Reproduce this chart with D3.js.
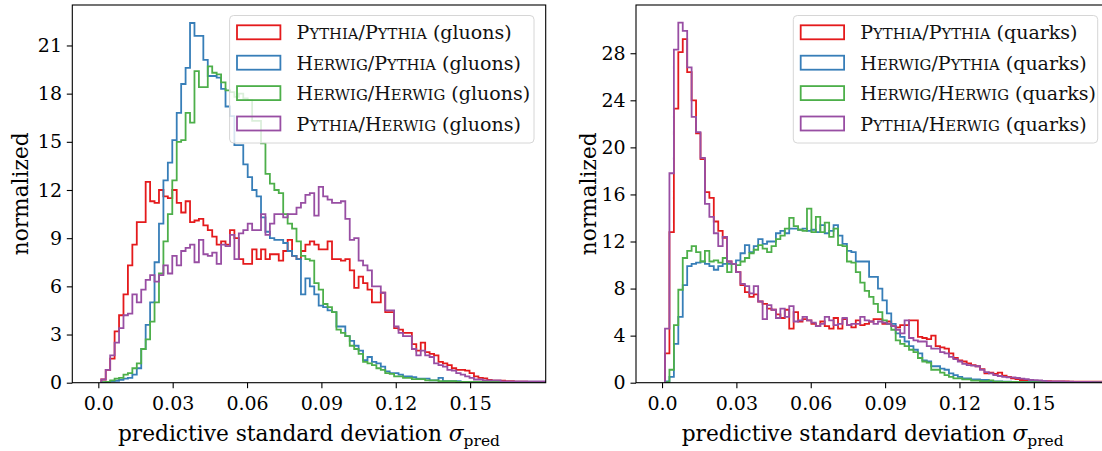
<!DOCTYPE html>
<html>
<head>
<meta charset="utf-8">
<script src="https://cdn.jsdelivr.net/npm/d3@7"></script>
<style>
  html, body { margin: 0; padding: 0; background: #fff; }
  svg { display: block; }
</style>
</head>
<body>
<div id="chart"></div>
<script>
// histogram bins: 100 bins of equal width starting at binStart
const binStart = 0.0012;
const binWidth = 0.00179;

const generators = ["Pythia/Pythia", "Herwig/Pythia", "Herwig/Herwig", "Pythia/Herwig"];
const colors = ["#e41a1c", "#377eb8", "#4daf4a", "#984ea3"];

const xTicks = [0, 0.03, 0.06, 0.09, 0.12, 0.15];
const xTickLabels = ["0.0", "0.03", "0.06", "0.09", "0.12", "0.15"];
const gluonTicks = [0, 3, 6, 9, 12, 15, 18, 21];
const quarkTicks = [0, 4, 8, 12, 16, 20, 24, 28];

// gluons
const gluonPP = [0.2, 0.8, 1.5, 3.2, 4.2, 5.5, 7.3, 8.6, 10.0, 10.0,
  12.5, 11.3, 11.2, 12.0, 11.6, 11.5, 12.0, 11.2, 10.6, 11.3,
  10.0, 10.1, 10.2, 9.8, 9.5, 9.1, 8.6, 8.8, 8.6, 9.5,
  9.0, 7.7, 7.4, 7.4, 8.3, 7.7, 8.3, 7.7, 8.0, 8.0,
  7.6, 8.2, 8.9, 7.9, 7.7, 8.2, 8.6, 8.8, 8.6, 8.3,
  8.3, 8.8, 7.7, 7.7, 7.6, 7.7, 7.0, 5.9, 6.6, 6.2,
  5.8, 5.0, 5.0, 5.6, 4.4, 4.4, 3.4, 3.3, 3.1, 3.1,
  2.4, 2.0, 2.5, 1.9, 1.8, 1.7, 1.3, 1.2, 1.1, 0.9,
  0.8, 0.8, 0.75, 0.6, 0.4, 0.3, 0.27, 0.17, 0.12, 0.12,
  0.12, 0.1, 0.1, 0.06, 0.06, 0.06, 0.05, 0.05, 0.04, 0.03];
const gluonHP = [0.02, 0.05, 0.1, 0.12, 0.18, 0.25, 0.3, 0.5, 0.9, 2.1,
  3.6, 5.0, 7.5, 9.9, 12.6, 13.7, 15.1, 16.8, 18.6, 19.6,
  22.4, 21.6, 21.6, 20.1, 19.1, 19.1, 19.0, 18.3, 17.2, 16.6,
  14.8, 14.8, 13.6, 12.8, 12.0, 11.6, 10.3, 9.4, 9.0, 8.9,
  8.9, 8.7, 8.2, 7.9, 7.7, 5.5, 6.5, 6.0, 5.5, 4.8,
  4.7, 4.5, 4.4, 3.5, 3.5, 2.9, 2.6, 2.3, 2.0, 1.4,
  1.6, 1.3, 1.2, 1.0, 0.7, 0.6, 0.6, 0.5, 0.4, 0.4,
  0.35, 0.25, 0.25, 0.25, 0.15, 0.15, 0.3, 0.1, 0.1, 0.1,
  0.1, 0.05, 0.05, 0.05, 0.05, 0.05, 0.05, 0.05, 0.05, 0.05,
  0.03, 0.03, 0.03, 0.03, 0.03, 0.03, 0.03, 0.03, 0.03, 0.03];
const gluonHH = [0.03, 0.05, 0.15, 0.25, 0.3, 0.5, 0.6, 0.9, 1.2, 2.1,
  2.7, 3.8, 5.0, 6.8, 8.8, 10.5, 12.6, 15.0, 15.1, 16.8,
  16.2, 19.4, 18.4, 18.4, 19.7, 19.3, 19.2, 18.7, 18.2, 18.1,
  17.8, 18.0, 17.7, 17.6, 16.3, 16.3, 14.9, 13.0, 12.4, 12.0,
  11.8, 10.5, 9.9, 9.6, 8.8, 7.9, 7.7, 7.6, 6.2, 5.8,
  4.9, 4.7, 4.4, 3.3, 3.1, 2.9, 2.3, 2.1, 1.8, 1.3,
  1.2, 1.1, 0.9, 0.8, 0.6, 0.55, 0.4, 0.4, 0.3, 0.3,
  0.22, 0.22, 0.22, 0.15, 0.15, 0.15, 0.1, 0.1, 0.1, 0.1,
  0.05, 0.05, 0.05, 0.05, 0.05, 0.05, 0.05, 0.05, 0.05, 0.05,
  0.03, 0.03, 0.03, 0.03, 0.03, 0.03, 0.03, 0.03, 0.03, 0.03];
const gluonPH = [0.2, 0.8, 1.7, 2.5, 3.4, 4.2, 4.3, 5.5, 5.0, 5.8,
  6.4, 6.7, 6.3, 6.7, 7.3, 6.8, 7.9, 7.3, 8.2, 8.4,
  8.6, 7.5, 8.9, 8.0, 7.9, 8.1, 7.4, 8.6, 8.5, 9.2,
  7.7, 9.3, 9.5, 9.9, 9.5, 9.5, 10.5, 9.2, 9.9, 10.5,
  10.5, 10.3, 10.5, 10.5, 10.9, 11.2, 11.7, 11.8, 10.4, 12.2,
  11.6, 11.4, 11.2, 11.2, 11.3, 10.2, 8.9, 9.0, 7.6, 7.3,
  7.0, 6.0, 6.0, 5.6, 4.5, 4.5, 3.5, 3.1, 2.9, 2.9,
  2.1, 1.7, 2.0, 1.7, 1.6, 1.2, 1.1, 1.0, 0.8, 0.75,
  0.6, 0.5, 0.4, 0.3, 0.2, 0.2, 0.15, 0.15, 0.15, 0.15,
  0.08, 0.08, 0.08, 0.08, 0.08, 0.08, 0.08, 0.08, 0.08, 0.08];

// quarks
const quarkPP = [2.5, 12.8, 23.3, 28.1, 29.2, 26.4, 24.0, 21.2, 19.0, 16.2,
  15.7, 13.7, 12.9, 12.3, 10.3, 10.1, 9.4, 8.3, 7.7, 7.3,
  7.5, 6.9, 6.7, 6.3, 6.2, 5.8, 5.5, 6.2, 4.6, 6.0,
  5.2, 5.4, 5.3, 5.0, 4.8, 5.2, 4.8, 4.6, 5.5, 4.6,
  5.4, 4.9, 4.7, 5.3, 4.9, 5.0, 5.2, 5.4, 5.4, 5.0,
  5.2, 4.8, 4.7, 4.9, 4.9, 5.3, 5.3, 3.9, 3.8, 3.7,
  4.0, 3.1, 3.0, 2.9, 2.5, 2.1, 1.9, 1.8, 1.65, 1.5,
  1.4, 1.15, 0.8, 0.85, 0.75, 0.85, 0.6, 0.5, 0.37, 0.3,
  0.23, 0.23, 0.14, 0.14, 0.14, 0.14, 0.14, 0.11, 0.11, 0.11,
  0.11, 0.08, 0.08, 0.08, 0.08, 0.08, 0.08, 0.08, 0.08, 0.08];
const quarkHP = [0.1, 0.5, 3.3, 5.6, 8.3, 9.9, 10.1, 10.2, 10.3, 10.1,
  9.9, 9.6, 9.9, 10.1, 10.1, 10.1, 10.4, 11.0, 11.7, 11.1,
  11.6, 12.2, 11.8, 12.0, 12.0, 12.7, 12.9, 12.7, 13.1, 13.1,
  13.0, 13.1, 12.9, 13.0, 12.8, 13.4, 12.7, 12.9, 13.4, 12.5,
  11.8, 11.2, 11.1, 10.3, 10.3, 10.3, 9.0, 9.0, 8.0, 7.0,
  5.9, 5.0, 4.2, 3.9, 3.5, 3.1, 2.8, 2.5, 1.9, 1.8,
  1.4, 1.4, 1.2, 1.1, 0.8, 0.65, 0.5, 0.37, 0.37, 0.28,
  0.28, 0.23, 0.23, 0.11, 0.11, 0.11, 0.08, 0.08, 0.07, 0.07,
  0.06, 0.06, 0.06, 0.05, 0.05, 0.05, 0.05, 0.05, 0.05, 0.05,
  0.04, 0.04, 0.04, 0.04, 0.03, 0.03, 0.03, 0.03, 0.03, 0.03];
const quarkHH = [0.05, 1.1, 4.9, 7.9, 10.6, 11.2, 11.6, 11.1, 10.3, 11.2,
  10.3, 10.4, 10.2, 10.6, 9.4, 10.1, 10.0, 10.3, 10.6, 11.0,
  11.3, 11.7, 11.4, 11.1, 11.6, 12.2, 12.5, 13.1, 14.0, 13.3,
  13.0, 12.9, 14.8, 12.8, 14.1, 12.8, 13.6, 12.4, 13.1, 11.7,
  11.6, 10.3, 10.2, 9.4, 8.5, 7.8, 7.3, 6.7, 6.0, 5.3,
  5.0, 4.5, 3.6, 3.3, 3.1, 2.8, 2.6, 2.1, 1.8, 1.7,
  1.1, 1.1, 0.85, 0.65, 0.5, 0.37, 0.37, 0.28, 0.28, 0.17,
  0.17, 0.14, 0.14, 0.2, 0.08, 0.08, 0.07, 0.07, 0.06, 0.06,
  0.05, 0.05, 0.05, 0.05, 0.05, 0.05, 0.05, 0.05, 0.05, 0.05,
  0.03, 0.03, 0.03, 0.03, 0.03, 0.03, 0.03, 0.03, 0.03, 0.03];
const quarkPH = [4.6, 17.8, 28.3, 30.6, 29.9, 26.8, 22.6, 21.3, 19.1, 15.2,
  14.1, 12.7, 11.6, 12.4, 10.3, 10.1, 9.4, 8.4, 8.2, 7.6,
  8.2, 6.9, 5.4, 6.6, 6.2, 5.5, 6.3, 5.6, 6.5, 5.2,
  5.3, 5.6, 5.3, 5.1, 4.8, 5.0, 5.6, 5.3, 4.9, 5.0,
  5.5, 4.9, 5.0, 5.0, 5.6, 5.3, 5.2, 5.0, 5.2, 5.1,
  5.0, 4.8, 4.5, 4.2, 5.3, 3.8, 3.6, 3.5, 3.5, 3.1,
  2.9, 2.9, 2.6, 2.5, 2.2, 2.0, 1.8, 1.6, 1.5, 1.45,
  1.4, 1.1, 0.9, 0.8, 0.65, 0.57, 0.5, 0.45, 0.45, 0.4,
  0.35, 0.3, 0.23, 0.22, 0.2, 0.15, 0.1, 0.1, 0.1, 0.1,
  0.08, 0.08, 0.07, 0.07, 0.06, 0.06, 0.05, 0.05, 0.05, 0.05];

const panels = [
  { left: 72.3, yMax: 23.52, yTicks: gluonTicks, series: [gluonPP, gluonHP, gluonHH, gluonPH], jet: "gluons", labelGap: 44 },
  { left: 636, yMax: 32.1, yTicks: quarkTicks, series: [quarkPP, quarkHP, quarkHH, quarkPH], jet: "quarks", labelGap: 40.5 }
];

const w = 1102;
const h = 451;
const plotTop = 5;
const plotBottom = 382.7;
const plotW = 473.4;
const font = "'DejaVu Serif', serif";
const fs = 19;

const svg = d3.select("#chart")
  .append("svg")
  .attr("width", w)
  .attr("height", h)
  .style("font-family", font);

// writes "Pythia/Herwig" as small caps: capitals full size, the rest smaller
function smallCaps(text, name, size) {
  name.match(/[A-Z]|[a-z]+|[^A-Za-z]+/g).forEach(part => {
    const lower = /^[a-z]+$/.test(part);
    text.append("tspan")
      .attr("font-size", lower ? size * 0.78 : size)
      .text(lower ? part.toUpperCase() : part);
  });
}

panels.forEach((p, pi) => {
  const xScale = d3.scaleLinear()
    .domain([-0.0105, 0.1805])
    .range([p.left, p.left + plotW]);

  const yScale = d3.scaleLinear()
    .domain([0, p.yMax])
    .range([plotBottom, plotTop]);

  svg.append("clipPath")
    .attr("id", "clip" + pi)
    .append("rect")
      .attr("x", p.left)
      .attr("y", plotTop)
      .attr("width", plotW)
      .attr("height", plotBottom - plotTop);

  const line = d3.line()
    .x(d => xScale(d[0]))
    .y(d => yScale(d[1]));

  const plot = svg.append("g").attr("clip-path", "url(#clip" + pi + ")");

  p.series.forEach((vals, si) => {
    const pts = [[binStart, 0]];
    vals.forEach((v, i) => {
      pts.push([binStart + i * binWidth, v]);
      pts.push([binStart + (i + 1) * binWidth, v]);
    });
    pts.push([binStart + vals.length * binWidth, 0]);

    plot.append("path")
      .attr("d", line(pts))
      .attr("fill", "none")
      .attr("stroke", colors[si])
      .attr("stroke-width", 1.8)
      .attr("stroke-linejoin", "miter");
  });

  // axes
  const xAxis = d3.axisBottom(xScale)
    .tickValues(xTicks)
    .tickFormat((d, i) => xTickLabels[i])
    .tickSize(5.5)
    .tickPadding(8)
    .tickSizeOuter(0);

  const yAxis = d3.axisLeft(yScale)
    .tickValues(p.yTicks)
    .tickSize(5.5)
    .tickPadding(4.8)
    .tickSizeOuter(0);

  svg.append("g")
    .attr("transform", "translate(0, " + plotBottom + ")")
    .call(xAxis)
    .call(g => g.select(".domain").remove())
    .call(g => g.selectAll(".tick line").attr("stroke", "#000").attr("stroke-width", 1.1))
    .call(g => g.selectAll(".tick text").attr("font-family", font).attr("font-size", fs).attr("fill", "#000"));

  svg.append("g")
    .attr("transform", "translate(" + p.left + ", 0)")
    .call(yAxis)
    .call(g => g.select(".domain").remove())
    .call(g => g.selectAll(".tick line").attr("stroke", "#000").attr("stroke-width", 1.1))
    .call(g => g.selectAll(".tick text").attr("font-family", font).attr("font-size", fs).attr("fill", "#000"));

  svg.append("rect")
    .attr("x", p.left)
    .attr("y", plotTop)
    .attr("width", plotW)
    .attr("height", plotBottom - plotTop)
    .attr("fill", "none")
    .attr("stroke", "#000")
    .attr("stroke-width", 1.1);

  // axis labels
  const xl = svg.append("text")
    .attr("x", p.left + plotW / 2)
    .attr("y", 441)
    .attr("text-anchor", "middle")
    .attr("font-size", 21.7)
    .attr("fill", "#000");
  xl.append("tspan").text("predictive standard deviation ");
  xl.append("tspan").attr("font-style", "italic").text("σ");
  xl.append("tspan").attr("font-size", 15.5).attr("dy", 5).text("pred");

  svg.append("text")
    .attr("transform", "translate(" + (p.left - p.labelGap) + "," + ((plotTop + plotBottom) / 2) + ") rotate(-90)")
    .attr("text-anchor", "middle")
    .attr("font-size", 21.7)
    .attr("fill", "#000")
    .text("normalized");

  // legend
  const legW = 304.4;
  const legX = p.left + plotW - 11.7 - legW;
  const legY = 15.5;
  const legend = svg.append("g");

  legend.append("rect")
    .attr("x", legX)
    .attr("y", legY)
    .attr("width", legW)
    .attr("height", 127.5)
    .attr("rx", 4)
    .attr("fill", "#fff")
    .attr("fill-opacity", 0.8)
    .attr("stroke", "#d6d6d6")
    .attr("stroke-width", 1);

  generators.forEach((name, i) => {
    const cy = legY + 16.8 + i * 30.4;
    legend.append("rect")
      .attr("x", legX + 7.4)
      .attr("y", cy - 7)
      .attr("width", 43.4)
      .attr("height", 14)
      .attr("fill", "none")
      .attr("stroke", colors[i])
      .attr("stroke-width", 1.8);

    const t = legend.append("text")
      .attr("x", legX + 67)
      .attr("y", cy + 7)
      .attr("font-size", fs)
      .attr("fill", "#111");
    smallCaps(t, name, fs);
    t.append("tspan").text(" (" + p.jet + ")");
  });
});
</script>
</body>
</html>
